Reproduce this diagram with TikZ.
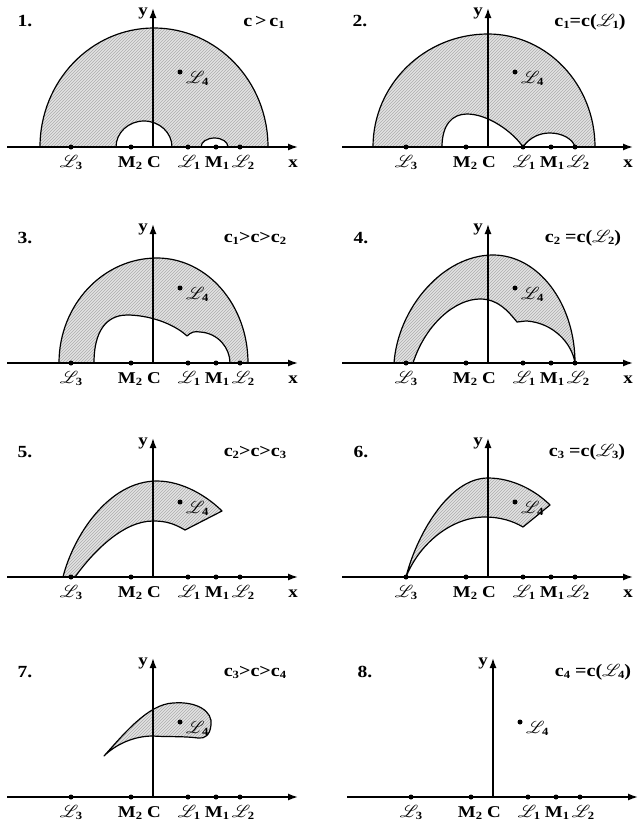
\documentclass[tikz,border=0pt]{standalone}
\usepackage{fontspec}
\setmainfont{Liberation Serif}[FakeStretch=1.15]
\usepackage{mathrsfs}
\usetikzlibrary{patterns,arrows.meta}
\tikzset{
  axisline/.style={line width=1.5pt, -{Latex[length=10pt,width=7pt]}},
  curve/.style={line width=1.2pt, line join=round},
  region/.style={preaction={fill=black!11}, preaction={pattern=north east lines, pattern color=black!32}},
  lbl/.style={font=\bfseries\fontsize{16.5}{18}\selectfont, inner sep=0pt},
  num/.style={font=\bfseries\fontsize{17}{19}\selectfont, inner sep=0pt, anchor=base},
  cond/.style={font=\bfseries\fontsize{17.5}{19}\selectfont, inner sep=0pt, anchor=base},
  dot/.style={circle, fill=black, inner sep=0pt, minimum size=5pt},
}
\newcommand\sbb[1]{\raisebox{-2pt}{\fontsize{11}{12}\selectfont\bfseries #1}}
\newcommand\SL[1]{$\mathscr{L}$\kern-2.5pt\sbb{#1}}
\newcommand\drawaxes[1]{%
  \coordinate (#1o) at (0,0);
  \coordinate (#1xs) at (-146,0);
  \coordinate (#1xe) at (145,0);
  \coordinate (#1ye) at (0,139);
  \draw[axisline] (#1xs) -- (#1xe);
  \draw[axisline] (#1o) -- (#1ye);
  \node[lbl, anchor=base] (#1y) at (-10,132) {y};
  \node[dot] (#1L3) at (-82,0) {};
  \node[dot] (#1M2) at (-22,0) {};
  \node[dot] (#1L1) at (35,0) {};
  \node[dot] (#1M1) at (63,0) {};
  \node[dot] (#1L2) at (87,0) {};
  \node[dot] (#1L4) at (27,75) {};
  \node[lbl, anchor=base] (#1L3t) at (-82,-20) {\SL3};
  \node[lbl, anchor=base] (#1M2t) at (-23,-20) {M\sbb2};
  \node[lbl, anchor=base] (#1Ct) at (1,-20) {C};
  \node[lbl, anchor=base] (#1L1t) at (36,-20) {\SL1};
  \node[lbl, anchor=base] (#1M1t) at (64,-20) {M\sbb1};
  \node[lbl, anchor=base] (#1L2t) at (90,-20) {\SL2};
  \node[lbl, anchor=base west] (#1L4t) at (33,64) {\SL4};
}
\begin{document}
\begin{tikzpicture}[x=1pt,y=1pt]
\useasboundingbox (0,0) rectangle (639,-827);

% Panel 1
\begin{scope}[shift={(153,-147)}]
  \draw[curve, region] (-113,0) arc[start angle=180,end angle=0,x radius=114,y radius=119]
    -- (75,0) arc[start angle=0,end angle=180,x radius=13.5,y radius=9]
    -- (19,0) arc[start angle=0,end angle=180,x radius=28,y radius=26] -- cycle;
  \drawaxes{a}
  \node[lbl, anchor=base] (ax) at (140,-20) {x};
  \node[num] (an) at (-128,120) {1.};
  \node[cond] (ac) at (111,121) {c\,>\,c\sbb1};
\end{scope}

% Panel 2
\begin{scope}[shift={(488,-147)}]
  \draw[curve, region] (-115,0) arc[start angle=180,end angle=90,x radius=115,y radius=113]
    arc[start angle=90,end angle=0,x radius=107,y radius=113]
    -- (87,0) .. controls (85,8) and (74,14) .. (62,14)
    .. controls (52,14) and (42,10) .. (35,0)
    .. controls (25,15) and (0,33) .. (-21,33)
    .. controls (-36,33) and (-46,22) .. (-46,0) -- cycle;
  \drawaxes{b}
  \node[lbl, anchor=base] (bx) at (140,-20) {x};
  \node[num] (bn) at (-128,120) {2.};
  \node[cond] (bc) at (102,121) {c\sbb1=c(\SL1)};
\end{scope}

% Panel 3
\begin{scope}[shift={(153,-363)}]
  \draw[curve, region] (-94,0) arc[start angle=180,end angle=90,x radius=98,y radius=105]
    arc[start angle=90,end angle=0,x radius=91,y radius=105]
    -- (77,0) .. controls (77,15) and (65,30) .. (47,31)
    .. controls (42,32) and (38,31) .. (34,27)
    .. controls (20,40) and (-5,48) .. (-26,48)
    .. controls (-40,48) and (-59,40) .. (-59,0) -- cycle;
  \drawaxes{c}
  \node[lbl, anchor=base] (cx) at (140,-20) {x};
  \node[num] (cn) at (-128,120) {3.};
  \node[cond] (cc) at (102,121) {c\sbb1>c>c\sbb2};
\end{scope}

% Panel 4
\begin{scope}[shift={(488,-363)}]
  \draw[curve, region] (-94,0) .. controls (-90,55) and (-45,108) .. (5,108)
    arc[start angle=90,end angle=0,x radius=82,y radius=108]
    .. controls (84,20) and (65,40) .. (39,42)
    .. controls (35,42) and (32,41) .. (29,41)
    .. controls (20,52) and (10,64) .. (-8,64)
    .. controls (-32,64) and (-62,40) .. (-75,0) -- cycle;
  \drawaxes{d}
  \node[lbl, anchor=base] (dx) at (140,-20) {x};
  \node[num] (dn) at (-127,120) {4.};
  \node[cond] (dc) at (95,121) {c\sbb2 =c(\SL2)};
\end{scope}

% Panel 5
\begin{scope}[shift={(153,-577)}]
  \draw[curve, region] (-90,0) .. controls (-80,40) and (-45,96) .. (4,96)
    .. controls (30,96) and (55,80) .. (69,66) -- (32,47)
    .. controls (20,54) and (12,56) .. (0,56)
    .. controls (-30,56) and (-60,25) .. (-78,0) -- cycle;
  \drawaxes{e}
  \node[lbl, anchor=base] (ex) at (140,-20) {x};
  \node[num] (en) at (-128,120) {5.};
  \node[cond] (ec) at (102,121) {c\sbb2>c>c\sbb3};
\end{scope}

% Panel 6
\begin{scope}[shift={(488,-577)}]
  \draw[curve, region] (-82,0) .. controls (-72,40) and (-40,99) .. (0,99)
    .. controls (25,99) and (48,86) .. (62,72) -- (35,50)
    .. controls (25,56) and (12,60) .. (-3,60)
    .. controls (-35,60) and (-68,35) .. (-82,0) -- cycle;
  \drawaxes{f}
  \node[lbl, anchor=base] (fx) at (140,-20) {x};
  \node[num] (fn) at (-127,120) {6.};
  \node[cond] (fc) at (99,121) {c\sbb3 =c(\SL3)};
\end{scope}

% Panel 7
\begin{scope}[shift={(153,-797)}]
  \draw[curve, region] (-49,41) .. controls (-30,62) and (-5,93) .. (20,94)
    .. controls (45,96) and (60,85) .. (58,72)
    .. controls (57,62) and (52,58) .. (45,59)
    .. controls (30,61) and (12,60) .. (0,61)
    .. controls (-20,61) and (-38,52) .. (-49,41) -- cycle;
  \drawaxes{g}
  \node[num] (gn) at (-128,120) {7.};
  \node[cond] (gc) at (102,121) {c\sbb3>c>c\sbb4};
\end{scope}

% Panel 8
\begin{scope}[shift={(493,-797)}]
  \drawaxes{h}
  \node[num] (hn) at (-128,120) {8.};
  \node[cond] (hc) at (100,121) {c\sbb4 =c(\SL4)};
\end{scope}
\end{tikzpicture}
\end{document}
